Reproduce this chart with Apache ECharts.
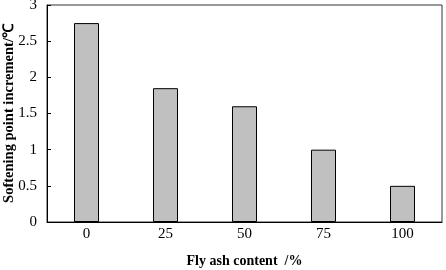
<!DOCTYPE html>
<html>
<head>
<meta charset="utf-8" />
<title>Softening point increment</title>
<script type="text/javascript" src="https://cdn.jsdelivr.net/npm/echarts@6/dist/echarts.min.js"></script>
</head>
<body style="margin:0;background-color:white;">
<div id="main" style="width:446px;height:270px;"></div>
<script type="text/javascript">
var categories = ['0', '25', '50', '75', '100'];
var values = [2.75, 1.85, 1.6, 1.0, 0.5];

var myChart = echarts.init(document.getElementById('main'));
myChart.setOption({
    animation: false,
    textStyle: { fontFamily: 'Liberation Serif' },
    grid: {
        left: 47, right: 4, top: 5, bottom: 48,
        outerBoundsMode: 'none',
        containLabel: false,
        show: true, borderColor: '#333', borderWidth: 1
    },
    xAxis: {
        type: 'category',
        data: categories,
        name: 'Fly ash content  /%',
        nameLocation: 'middle',
        nameGap: 32,
        nameMoveOverlap: false,
        nameTextStyle: { fontSize: 14, fontWeight: 'bold', color: '#000', fontFamily: 'Liberation Serif' },
        axisLine: { lineStyle: { color: '#000', width: 1 } },
        axisTick: { inside: true, length: 4, lineStyle: { color: '#000' } },
        axisLabel: { fontSize: 15, color: '#000', margin: 5 }
    },
    yAxis: {
        type: 'value',
        min: 0, max: 3, interval: 0.5,
        name: 'Softening point increment/℃',
        nameLocation: 'middle',
        nameGap: 30,
        nameMoveOverlap: false,
        nameTextStyle: { fontSize: 14.5, fontWeight: 'bold', color: '#000', fontFamily: 'Liberation Serif' },
        axisLine: { show: true, lineStyle: { color: '#000', width: 1 } },
        axisTick: { show: true, inside: true, length: 4, lineStyle: { color: '#000' } },
        axisLabel: { fontSize: 15, color: '#000', margin: 10 },
        splitLine: { show: false }
    },
    series: [{
        type: 'bar',
        data: values,
        barWidth: 25,
        itemStyle: { color: '#c0c0c0', borderColor: '#000', borderWidth: 1 }
    }]
});
</script>
</body>
</html>
